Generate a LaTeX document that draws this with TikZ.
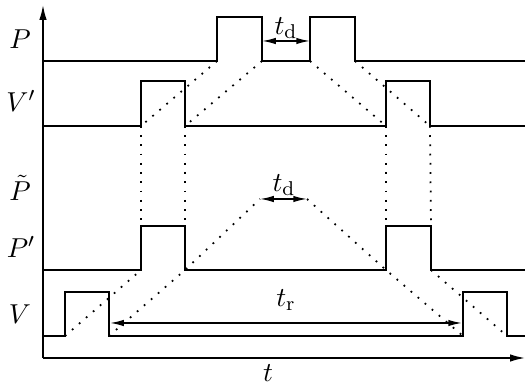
\documentclass[tikz,border=0pt]{standalone}
\usetikzlibrary{arrows.meta}
\begin{document}
\begin{tikzpicture}[x=0.4pt,y=-0.4pt,
  sig/.style={line width=0.6pt},
  dots/.style={line width=0.7pt,dash pattern=on 0.7pt off 3pt},
  dim/.style={line width=0.6pt,{Latex[length=5.5pt,width=2.6pt]}-{Latex[length=5.5pt,width=2.6pt]}},
  axis/.style={line width=0.6pt,-{Latex[length=6pt,width=3pt]}},
  lbl/.style={font=\fontsize{11}{13}\selectfont,inner sep=0pt}]
\useasboundingbox (0,0) rectangle (525,384);
% axes
\coordinate (O) at (43,358);
\coordinate (Ytop) at (43,5);
\coordinate (Xend) at (525,358);
\draw[axis] (O) -- (Ytop);
\draw[axis] (O) -- (Xend);
% signals
\draw[sig] (43,61) -- (217,61) -- (217,17) -- (262,17) -- (262,61) -- (310,61) -- (310,17) -- (355,17) -- (355,61) -- (525,61);
\draw[sig] (43,126) -- (141,126) -- (141,81) -- (185,81) -- (185,126) -- (386,126) -- (386,81) -- (430,81) -- (430,126) -- (525,126);
\draw[sig] (43,270) -- (141,270) -- (141,226) -- (185,226) -- (185,270) -- (386,270) -- (386,226) -- (431,226) -- (431,270) -- (525,270);
\draw[sig] (43,336) -- (65,336) -- (65,292) -- (109,292) -- (109,336) -- (463,336) -- (463,292) -- (507,292) -- (507,336) -- (525,336);
% dotted connections
\draw[dots] (217,61) -- (141,126);
\draw[dots] (262,61) -- (185,126);
\draw[dots] (310,61) -- (386,126);
\draw[dots] (355,61) -- (430,126);
\draw[dots] (141,126) -- (141,226);
\draw[dots] (185,126) -- (185,226);
\draw[dots] (386,126) -- (386,226);
\draw[dots] (430,126) -- (431,226);
\draw[dots] (65,336) -- (141,270);
\draw[dots] (109,336) -- (185,270) -- (260,199);
\draw[dots] (307,199) -- (386,270) -- (463,336);
\draw[dots] (431,270) -- (507,336);
% dimension arrows
\coordinate (td1a) at (262,41);
\coordinate (td1b) at (310,41);
\coordinate (td2a) at (260,199);
\coordinate (td2b) at (307,199);
\coordinate (tra) at (110,323);
\coordinate (trb) at (462,323);
\draw[dim] (td1a) -- (td1b);
\draw[dim] (td2a) -- (td2b);
\draw[dim] (tra) -- (trb);
% labels
\node[lbl] (lP) at (20,39) {$P$};
\node[lbl] (lVp) at (21,101) {$V'$};
\node[lbl] (lPt) at (20,188) {$\tilde{P}$};
\node[lbl] (lPp) at (21,247) {$P'$};
\node[lbl] (lV) at (20,314) {$V$};
\node[lbl] (ltd1) at (286,28) {$t_\mathrm{d}$};
\node[lbl] (ltd2) at (284,185) {$t_\mathrm{d}$};
\node[lbl] (ltr) at (286,300) {$t_\mathrm{r}$};
\node[lbl] (lt) at (268,373) {$t$};
\end{tikzpicture}
\end{document}
